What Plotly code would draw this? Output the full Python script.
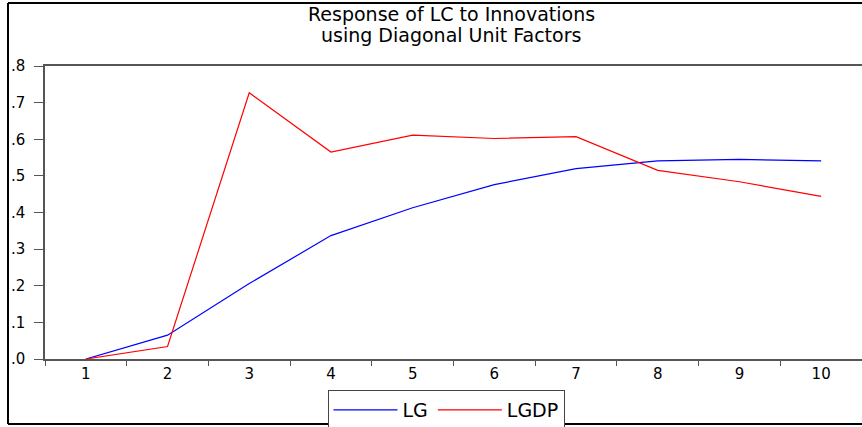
import plotly.graph_objects as go

periods = ["1", "2", "3", "4", "5", "6", "7", "8", "9", "10"]
lg = [0.0, 0.065, 0.206, 0.337, 0.413, 0.476, 0.520, 0.541, 0.545, 0.541]
lgdp = [0.0, 0.034, 0.727, 0.565, 0.611, 0.602, 0.607, 0.515, 0.484, 0.444]
y_ticks = [0.0, 0.1, 0.2, 0.3, 0.4, 0.5, 0.6, 0.7, 0.8]
y_labels = [".0", ".1", ".2", ".3", ".4", ".5", ".6", ".7", ".8"]
title_lines = ["Response of LC to Innovations", "using Diagonal Unit Factors"]

W, H = 862, 427
L, R, T, B = 45, 0, 66, 68
pw, ph = W - L - R, H - T - B

def px(x):
    return (x - L) / pw

def py(y):
    return (H - B - y) / ph

FONT = "DejaVu Sans"

fig = go.Figure()
fig.add_trace(go.Scatter(x=periods, y=lg, mode="lines", name="LG",
                         line=dict(color="#0000FF", width=1.2)))
fig.add_trace(go.Scatter(x=periods, y=lgdp, mode="lines", name="LGDP",
                         line=dict(color="#FF0000", width=1.2)))

fig.update_layout(
    width=W, height=H,
    margin=dict(l=L, r=R, t=T, b=B, autoexpand=False),
    paper_bgcolor="white", plot_bgcolor="white",
    font=dict(family=FONT, size=15, color="black"),
    showlegend=True,
    legend=dict(orientation="h", x=px(446), xanchor="center", xref="paper",
                y=py(390), yanchor="top", yref="paper",
                bordercolor="#444444", borderwidth=1, bgcolor="white",
                font=dict(family=FONT, size=19), itemwidth=64,
                tracegroupgap=0),
    xaxis=dict(type="category", categoryorder="array", categoryarray=periods,
               range=[-0.5, 9.5], tickson="boundaries", ticks="outside",
               ticklen=5, tickcolor="#555555", tickwidth=1.2,
               showline=True, linecolor="#555555", linewidth=1.5, mirror=True,
               showgrid=False, zeroline=False, automargin=False,
               tickfont=dict(family=FONT, size=15)),
    yaxis=dict(range=[0, 0.8], tickmode="array", tickvals=y_ticks,
               ticktext=y_labels, ticks="outside", ticklen=9,
               tickcolor="#555555", tickwidth=1.2,
               showline=True, linecolor="#555555", linewidth=1.5, mirror=False,
               showgrid=False, zeroline=False, automargin=False,
               ticklabelstandoff=6,
               tickfont=dict(family=FONT, size=15)),
)

for text, ypix in zip(title_lines, [14, 35]):
    fig.add_annotation(text=text, showarrow=False, xref="paper", yref="paper",
                       x=px(451), y=py(ypix), xanchor="center", yanchor="middle",
                       font=dict(family=FONT, size=19, color="black"))

frame = dict(color="black", width=2)
fig.add_shape(type="line", xref="paper", yref="paper",
              x0=px(8), y0=py(3), x1=px(W + 2), y1=py(3), line=frame)
fig.add_shape(type="line", xref="paper", yref="paper",
              x0=px(8), y0=py(3), x1=px(8), y1=py(424), line=frame)
fig.add_shape(type="line", xref="paper", yref="paper",
              x0=px(8), y0=py(424), x1=px(W + 2), y1=py(424), line=frame)

fig.write_html("out.html", config={"displayModeBar": False},
               post_script="document.body.style.margin='0px';"
                           "document.body.style.overflow='hidden';")
